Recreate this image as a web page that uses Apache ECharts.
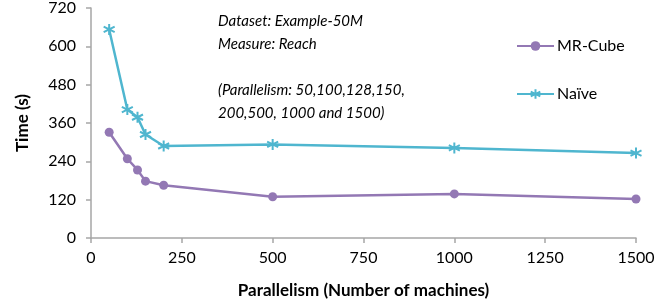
<!DOCTYPE html>
<html>
<head>
<meta charset="utf-8">
<script src="https://cdn.jsdelivr.net/npm/echarts@6/dist/echarts.min.js"></script>
<style>
  html, body { margin: 0; padding: 0; background: #fff; }
  #chart { width: 671px; height: 305px; }
</style>
</head>
<body>
<div id="chart"></div>
<script>
// parallelism (number of machines)
const machines = [50, 100, 128, 150, 200, 500, 1000, 1500];
// time in seconds
const mrCube = [331, 248, 213, 178, 165, 129, 138, 122];
const naive = [653, 402, 378, 324, 288, 293, 282, 266];

const xTicks = [0, 250, 500, 750, 1000, 1250, 1500];
const yTicks = [0, 120, 240, 360, 480, 600, 720];

const notes = [
  'Dataset: Example-50M',
  'Measure: Reach',
  '',
  '(Parallelism: 50,100,128,150,',
  '200,500, 1000 and 1500)'
];

const purple = '#9378b4';
const cyan = '#4fb6cf';
const axisGrey = '#a6a6a6';
const font = 'Lato, "Open Sans", sans-serif';

const star = 'path://M5,0L5,10M0.67,2.5L9.33,7.5M0.67,7.5L9.33,2.5';

const chart = echarts.init(document.getElementById('chart'));

chart.setOption({
  animation: false,
  textStyle: { fontFamily: font },
  grid: { left: 91, right: 35, top: 6, bottom: 67 },
  xAxis: {
    type: 'value',
    min: xTicks[0],
    max: xTicks[xTicks.length - 1],
    interval: 250,
    name: 'Parallelism (Number of machines)',
    nameLocation: 'middle',
    nameGap: 44,
    nameTextStyle: { fontWeight: 'bold', fontSize: 17, color: '#000', fontFamily: font },
    axisLine: { lineStyle: { color: axisGrey, width: 1.5 } },
    axisTick: { show: true, length: 5, lineStyle: { color: axisGrey, width: 1.5 } },
    axisLabel: { fontSize: 16, color: '#000', margin: 12, fontFamily: font, formatter: v => String(v) },
    splitLine: { show: false }
  },
  yAxis: {
    type: 'value',
    min: yTicks[0],
    max: yTicks[yTicks.length - 1],
    interval: 120,
    name: 'Time (s)',
    nameLocation: 'middle',
    nameGap: 60,
    nameRotate: 90,
    nameTextStyle: { fontWeight: 'bold', fontSize: 17, color: '#000', fontFamily: font },
    axisLine: { show: true, lineStyle: { color: axisGrey, width: 1.5 } },
    axisTick: { show: true, length: 5, lineStyle: { color: axisGrey, width: 1.5 } },
    axisLabel: { fontSize: 16, color: '#000', margin: 15, fontFamily: font },
    splitLine: { show: false }
  },
  legend: {
    orient: 'vertical',
    left: 511,
    top: 33,
    itemWidth: 37,
    itemHeight: 12,
    itemGap: 32,
    textStyle: { fontSize: 16, color: '#000', fontFamily: font, padding: [0, 0, 0, -2] },
    data: ['MR-Cube', 'Naïve']
  },
  graphic: notes.map((t, i) => ({
    type: 'text',
    left: 218,
    top: 14 + i * 23,
    style: { text: t, fill: '#000', font: 'italic 15px ' + font }
  })),
  series: [
    {
      name: 'MR-Cube',
      type: 'line',
      data: machines.map((m, i) => [m, mrCube[i]]),
      symbol: 'circle',
      symbolSize: 9,
      lineStyle: { color: purple, width: 2.5 },
      itemStyle: { color: purple }
    },
    {
      name: 'Naïve',
      type: 'line',
      data: machines.map((m, i) => [m, naive[i]]),
      symbol: star,
      symbolSize: 11,
      lineStyle: { color: cyan, width: 2.5 },
      itemStyle: { color: cyan, borderColor: cyan, borderWidth: 2 }
    }
  ]
});
</script>
</body>
</html>
